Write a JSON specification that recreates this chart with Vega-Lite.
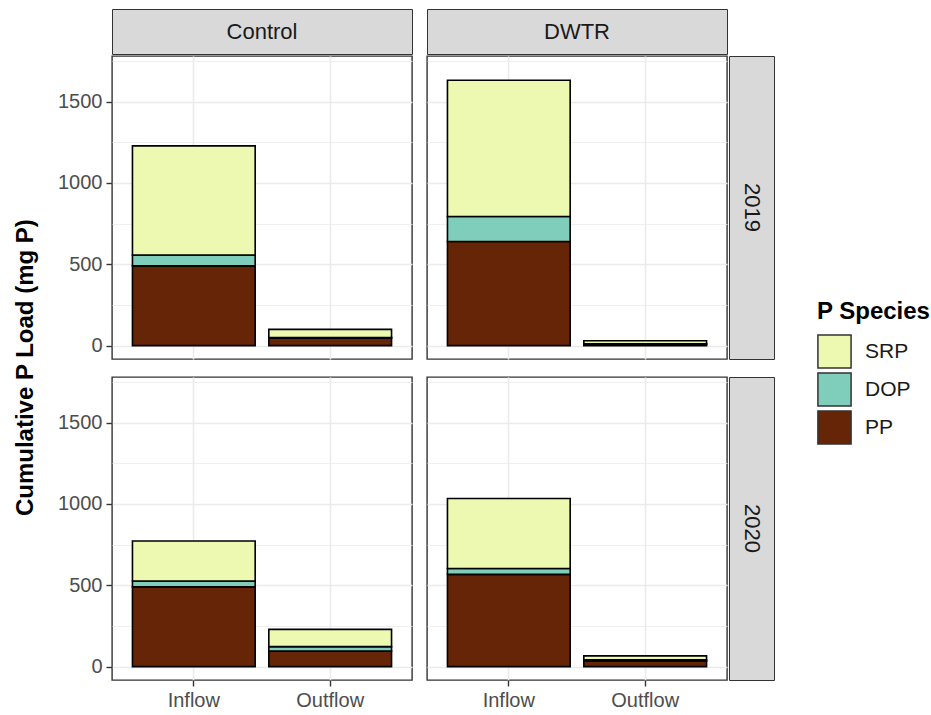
{
  "$schema": "https://vega.github.io/schema/vega-lite/v6.json",
  "background": "white",
  "padding": {"left": 13, "top": 8, "right": 0, "bottom": 0},
  "autosize": {"type": "pad"},
  "title": {
    "text": "Cumulative P Load (mg P)",
    "orient": "left",
    "anchor": "middle",
    "fontSize": 24,
    "fontWeight": "bold",
    "color": "black",
    "offset": 19,
    "dx": -8
  },
  "datasets": {
    "loads": [
      {"treatment": "Control", "year": 2019, "flow": "Inflow", "species": "PP", "tier": 1, "load": 490},
      {"treatment": "Control", "year": 2019, "flow": "Inflow", "species": "DOP", "tier": 2, "load": 67},
      {"treatment": "Control", "year": 2019, "flow": "Inflow", "species": "SRP", "tier": 3, "load": 671},
      {"treatment": "Control", "year": 2019, "flow": "Outflow", "species": "PP", "tier": 1, "load": 46},
      {"treatment": "Control", "year": 2019, "flow": "Outflow", "species": "DOP", "tier": 2, "load": 4},
      {"treatment": "Control", "year": 2019, "flow": "Outflow", "species": "SRP", "tier": 3, "load": 50},
      {"treatment": "DWTR", "year": 2019, "flow": "Inflow", "species": "PP", "tier": 1, "load": 640},
      {"treatment": "DWTR", "year": 2019, "flow": "Inflow", "species": "DOP", "tier": 2, "load": 154},
      {"treatment": "DWTR", "year": 2019, "flow": "Inflow", "species": "SRP", "tier": 3, "load": 837},
      {"treatment": "DWTR", "year": 2019, "flow": "Outflow", "species": "PP", "tier": 1, "load": 8},
      {"treatment": "DWTR", "year": 2019, "flow": "Outflow", "species": "DOP", "tier": 2, "load": 4},
      {"treatment": "DWTR", "year": 2019, "flow": "Outflow", "species": "SRP", "tier": 3, "load": 18},
      {"treatment": "Control", "year": 2020, "flow": "Inflow", "species": "PP", "tier": 1, "load": 490},
      {"treatment": "Control", "year": 2020, "flow": "Inflow", "species": "DOP", "tier": 2, "load": 36},
      {"treatment": "Control", "year": 2020, "flow": "Inflow", "species": "SRP", "tier": 3, "load": 246},
      {"treatment": "Control", "year": 2020, "flow": "Outflow", "species": "PP", "tier": 1, "load": 96},
      {"treatment": "Control", "year": 2020, "flow": "Outflow", "species": "DOP", "tier": 2, "load": 27},
      {"treatment": "Control", "year": 2020, "flow": "Outflow", "species": "SRP", "tier": 3, "load": 106},
      {"treatment": "DWTR", "year": 2020, "flow": "Inflow", "species": "PP", "tier": 1, "load": 567},
      {"treatment": "DWTR", "year": 2020, "flow": "Inflow", "species": "DOP", "tier": 2, "load": 36},
      {"treatment": "DWTR", "year": 2020, "flow": "Inflow", "species": "SRP", "tier": 3, "load": 430},
      {"treatment": "DWTR", "year": 2020, "flow": "Outflow", "species": "PP", "tier": 1, "load": 34},
      {"treatment": "DWTR", "year": 2020, "flow": "Outflow", "species": "DOP", "tier": 2, "load": 8},
      {"treatment": "DWTR", "year": 2020, "flow": "Outflow", "species": "SRP", "tier": 3, "load": 24}
    ]
  },
  "config": {
    "font": "Liberation Sans",
    "view": {"stroke": "#333333", "strokeWidth": 1.4},
    "axis": {
      "domain": false,
      "labelFont": "Liberation Sans",
      "labelFontSize": 20,
      "labelColor": "#4d4d4d",
      "labelPadding": 4,
      "tickColor": "#333333",
      "tickWidth": 1.4,
      "tickSize": 6,
      "gridColor": "#ebebeb"
    },
    "legend": {
      "titleFont": "Liberation Sans",
      "titleFontSize": 24,
      "titleFontWeight": "bold",
      "titleColor": "black",
      "titlePadding": 10,
      "labelFont": "Liberation Sans",
      "labelFontSize": 21,
      "labelColor": "#1a1a1a",
      "labelOffset": 13,
      "symbolType": "square",
      "symbolSize": 1100,
      "symbolStrokeColor": "#333333",
      "symbolStrokeWidth": 1.5,
      "symbolOpacity": 1,
      "rowPadding": -7
    },
    "text": {"font": "Liberation Sans"}
  },
  "vconcat": [
    {
      "hconcat": [
        {
          "width": 300, "height": 45,
          "view": {"fill": "#d9d9d9", "stroke": "#333333"},
          "data": {"values": [{"label": "Control"}]},
          "mark": {"type": "text", "fontSize": 22, "color": "#1a1a1a", "baseline": "middle", "align": "center"},
          "encoding": {"text": {"field": "label", "type": "nominal"}}
        },
        {
          "width": 300, "height": 45,
          "view": {"fill": "#d9d9d9", "stroke": "#333333"},
          "data": {"values": [{"label": "DWTR"}]},
          "mark": {"type": "text", "fontSize": 22, "color": "#1a1a1a", "baseline": "middle", "align": "center"},
          "encoding": {"text": {"field": "label", "type": "nominal"}}
        }
      ],
      "spacing": 13
    },
    {
      "hconcat": [
        {
          "vconcat": [
            {
              "hconcat": [
                {
                  "width": 300, "height": 303,
                  "data": {"name": "loads"},
                  "transform": [{"filter": "datum.treatment === 'Control' && datum.year === 2019"}],
                  "mark": {"type": "bar", "stroke": "black", "strokeWidth": 1.6},
                  "encoding": {
                    "x": {"field": "flow", "type": "nominal", "scale": {"domain": ["Inflow", "Outflow"], "paddingInner": 0.1, "paddingOuter": 0.15},
                          "axis": {"title": null, "labels": false, "ticks": false, "grid": true, "gridWidth": 1.6, "bandPosition": 0.5}},
                    "y": {"field": "load", "type": "quantitative", "stack": "zero", "scale": {"domain": [-82, 1780], "nice": false, "zero": false},
                          "axis": {"title": null, "values": [0, 250, 500, 750, 1000, 1250, 1500, 1750], "format": "d",
                                   "labelExpr": "datum.value % 500 === 0 ? datum.label : ''",
                                   "gridWidth": {"condition": {"test": "datum.value % 500 === 0", "value": 1.6}, "value": 0.8},
                                   "tickOpacity": {"condition": {"test": "datum.value % 500 === 0", "value": 1}, "value": 0}}},
                    "color": {"field": "species", "type": "nominal", "scale": {"domain": ["SRP", "DOP", "PP"], "range": ["#edf8b1", "#7fcdbb", "#662506"]},
                              "legend": {"title": "P Species", "orient": "none", "legendX": 705, "legendY": 291}},
                    "order": {"field": "tier", "type": "quantitative"}
                  }
                },
                {
                  "width": 300, "height": 303,
                  "data": {"name": "loads"},
                  "transform": [{"filter": "datum.treatment === 'DWTR' && datum.year === 2019"}],
                  "mark": {"type": "bar", "stroke": "black", "strokeWidth": 1.6},
                  "encoding": {
                    "x": {"field": "flow", "type": "nominal", "scale": {"domain": ["Inflow", "Outflow"], "paddingInner": 0.1, "paddingOuter": 0.15},
                          "axis": {"title": null, "labels": false, "ticks": false, "grid": true, "gridWidth": 1.6, "bandPosition": 0.5}},
                    "y": {"field": "load", "type": "quantitative", "stack": "zero", "scale": {"domain": [-82, 1780], "nice": false, "zero": false},
                          "axis": {"title": null, "values": [0, 250, 500, 750, 1000, 1250, 1500, 1750], "labels": false, "ticks": false,
                                   "gridWidth": {"condition": {"test": "datum.value % 500 === 0", "value": 1.6}, "value": 0.8}}},
                    "color": {"field": "species", "type": "nominal", "scale": {"domain": ["SRP", "DOP", "PP"], "range": ["#edf8b1", "#7fcdbb", "#662506"]},
                              "legend": {"title": "P Species", "orient": "none", "legendX": 705, "legendY": 291}},
                    "order": {"field": "tier", "type": "quantitative"}
                  }
                }
              ],
              "spacing": 13
            },
            {
              "hconcat": [
                {
                  "width": 300, "height": 303,
                  "data": {"name": "loads"},
                  "transform": [{"filter": "datum.treatment === 'Control' && datum.year === 2020"}],
                  "mark": {"type": "bar", "stroke": "black", "strokeWidth": 1.6},
                  "encoding": {
                    "x": {"field": "flow", "type": "nominal", "scale": {"domain": ["Inflow", "Outflow"], "paddingInner": 0.1, "paddingOuter": 0.15},
                          "axis": {"title": null, "labelAngle": 0, "grid": true, "gridWidth": 1.6, "bandPosition": 0.5}},
                    "y": {"field": "load", "type": "quantitative", "stack": "zero", "scale": {"domain": [-82, 1780], "nice": false, "zero": false},
                          "axis": {"title": null, "values": [0, 250, 500, 750, 1000, 1250, 1500, 1750], "format": "d",
                                   "labelExpr": "datum.value % 500 === 0 ? datum.label : ''",
                                   "gridWidth": {"condition": {"test": "datum.value % 500 === 0", "value": 1.6}, "value": 0.8},
                                   "tickOpacity": {"condition": {"test": "datum.value % 500 === 0", "value": 1}, "value": 0}}},
                    "color": {"field": "species", "type": "nominal", "scale": {"domain": ["SRP", "DOP", "PP"], "range": ["#edf8b1", "#7fcdbb", "#662506"]},
                              "legend": {"title": "P Species", "orient": "none", "legendX": 705, "legendY": 291}},
                    "order": {"field": "tier", "type": "quantitative"}
                  }
                },
                {
                  "width": 300, "height": 303,
                  "data": {"name": "loads"},
                  "transform": [{"filter": "datum.treatment === 'DWTR' && datum.year === 2020"}],
                  "mark": {"type": "bar", "stroke": "black", "strokeWidth": 1.6},
                  "encoding": {
                    "x": {"field": "flow", "type": "nominal", "scale": {"domain": ["Inflow", "Outflow"], "paddingInner": 0.1, "paddingOuter": 0.15},
                          "axis": {"title": null, "labelAngle": 0, "grid": true, "gridWidth": 1.6, "bandPosition": 0.5}},
                    "y": {"field": "load", "type": "quantitative", "stack": "zero", "scale": {"domain": [-82, 1780], "nice": false, "zero": false},
                          "axis": {"title": null, "values": [0, 250, 500, 750, 1000, 1250, 1500, 1750], "labels": false, "ticks": false,
                                   "gridWidth": {"condition": {"test": "datum.value % 500 === 0", "value": 1.6}, "value": 0.8}}},
                    "color": {"field": "species", "type": "nominal", "scale": {"domain": ["SRP", "DOP", "PP"], "range": ["#edf8b1", "#7fcdbb", "#662506"]},
                              "legend": {"title": "P Species", "orient": "none", "legendX": 705, "legendY": 291}},
                    "order": {"field": "tier", "type": "quantitative"}
                  }
                }
              ],
              "spacing": 13
            }
          ],
          "spacing": 16
        },
        {
          "vconcat": [
            {
              "width": 45, "height": 303,
              "view": {"fill": "#d9d9d9", "stroke": "#333333"},
              "data": {"values": [{"label": "2019"}]},
              "mark": {"type": "text", "fontSize": 22, "color": "#1a1a1a", "angle": 90, "baseline": "middle", "align": "center"},
              "encoding": {"text": {"field": "label", "type": "nominal"}}
            },
            {
              "width": 45, "height": 303,
              "view": {"fill": "#d9d9d9", "stroke": "#333333"},
              "data": {"values": [{"label": "2020"}]},
              "mark": {"type": "text", "fontSize": 22, "color": "#1a1a1a", "angle": 90, "baseline": "middle", "align": "center"},
              "encoding": {"text": {"field": "label", "type": "nominal"}}
            }
          ],
          "spacing": 16
        }
      ],
      "spacing": 0
    }
  ],
  "spacing": 0
}
